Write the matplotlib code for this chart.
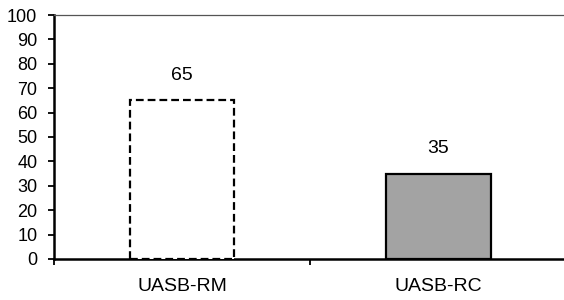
import matplotlib.pyplot as plt
from matplotlib.ticker import FixedLocator

plt.rcParams['font.family'] = ['Liberation Sans', 'DejaVu Sans']

categories = ['UASB-RM', 'UASB-RC']
values = [65, 35]
y_ticks = list(range(0, 101, 10))

fig = plt.figure(figsize=(5.64, 3.0), dpi=100)
ax = fig.add_axes([0.0957, 0.137, 0.908, 0.813])

pos = [0.5, 1.5]
# bar 1: white with dashed edge, bar 2: solid grey
ax.bar(pos[0], values[0], width=0.41, facecolor='white', edgecolor='black',
       linewidth=1.6, linestyle=(0, (3.5, 1.8)), zorder=3)
ax.bar(pos[1], values[1], width=0.41, facecolor='#a3a3a3', edgecolor='black',
       linewidth=1.6, zorder=3)

for x, v in zip(pos, values):
    ax.annotate(str(v), (x, v), xytext=(0, 18), textcoords='offset points',
                ha='center', va='center', fontsize=14)

ax.set_xlim(0, 2)
ax.set_ylim(0, 100)
ax.set_yticks(y_ticks)
ax.tick_params(axis='y', labelsize=13, length=4, width=1.3, direction='out', pad=8)

ax.xaxis.set_major_locator(FixedLocator([0, 1, 2]))
ax.set_xticklabels([])
ax.xaxis.set_minor_locator(FixedLocator(pos))
ax.set_xticklabels(categories, minor=True)
ax.tick_params(axis='x', which='major', length=4, width=1.3, direction='out')
ax.tick_params(axis='x', which='minor', length=0, labelsize=14, pad=14)

ax.spines['left'].set_linewidth(1.8)
ax.spines['bottom'].set_linewidth(1.8)
ax.spines['top'].set_linewidth(0.9)
ax.spines['top'].set_color('#555555')
ax.spines['right'].set_visible(False)

fig.savefig('out.png', dpi=100)
